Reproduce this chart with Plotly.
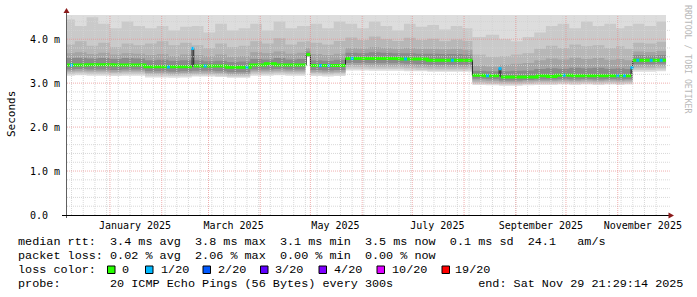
import plotly.graph_objects as go
import pandas as pd

# ---------------- data (values in ms) ----------------
smoke_dates = [
    "2024-12-04", "2024-12-11", "2024-12-18", "2024-12-25", "2025-01-01", "2025-01-08", "2025-01-15",
    "2025-01-22", "2025-01-29", "2025-02-05", "2025-02-12",
    "2025-02-19", "2025-02-26", "2025-03-05", "2025-03-12", "2025-03-19",
    "2025-03-26", "2025-04-02", "2025-04-09", "2025-04-16", "2025-04-23",
    "2025-04-28",
    "2025-05-01", "2025-05-08", "2025-05-15",
    "2025-05-22", "2025-05-29", "2025-06-05", "2025-06-12", "2025-06-19", "2025-06-26",
    "2025-07-03", "2025-07-10", "2025-07-17", "2025-07-24", "2025-07-31",
    "2025-08-06", "2025-08-14",
    "2025-08-22", "2025-08-29", "2025-09-05", "2025-09-12", "2025-09-19", "2025-09-26",
    "2025-10-03", "2025-10-10", "2025-10-17", "2025-10-24", "2025-10-31", "2025-11-05",
    "2025-11-10", "2025-11-17", "2025-11-24",
    "2025-11-29 21:29",
]
# outermost ping pair (upper one is above the graph top everywhere)
smoke_u1 = [4.6, 4.6, 4.6, 4.6, 4.6, 4.6, 4.6, 4.6, 4.6, 4.6, 4.6, 4.6, 4.6, 4.6, 4.6, 4.6, 4.6, 4.6,
            4.6, 4.6, 4.6, 4.6, 4.6, 4.6, 4.6, 4.6, 4.6, 4.6, 4.6, 4.6, 4.6, 4.6, 4.6, 4.6, 4.6, 4.6,
            4.6, 4.6, 4.6, 4.6, 4.6, 4.6, 4.6, 4.6, 4.6, 4.6, 4.6, 4.6, 4.6, 4.6, 4.6, 4.6, 4.6, 4.6]
smoke_l1 = [3.17, 3.18, 3.17, 3.17, 3.16, 3.17, 3.17,
            3.13, 3.13, 3.12, 3.13,
            3.15, 3.15, 3.14, 3.12, 3.12,
            3.17, 3.17, 3.18, 3.17, 3.17,
            3.60,
            3.16, 3.15, 3.16,
            3.29, 3.29, 3.28, 3.28, 3.28, 3.27, 3.27, 3.26, 3.26, 3.26, 3.26,
            2.96, 2.95,
            2.94, 2.94, 2.95, 2.96, 2.96, 2.97, 2.96, 2.97, 2.96, 2.97, 2.96, 2.97,
            3.26, 3.26, 3.27,
            3.27]
smoke_u2 = [4.45, 4.30, 4.50, 4.35, 4.25, 4.40, 4.30,
            4.25, 4.30, 4.20, 4.28,
            4.30, 4.15, 4.35, 4.20, 4.25,
            4.35, 4.20, 4.40, 4.25, 4.30,
            4.30,
            4.35, 4.25, 4.40,
            4.35, 4.25, 4.40, 4.30, 4.20, 4.35, 4.28, 4.32, 4.22, 4.30, 4.25,
            4.05, 4.10,
            4.00, 3.95, 4.05, 4.15, 4.30, 4.35, 4.25, 4.40, 4.30, 4.35, 4.25, 4.30,
            4.35, 4.30, 4.40,
            4.35]
smoke_l2 = [3.21, 3.22, 3.21, 3.21, 3.20, 3.21, 3.21,
            3.17, 3.17, 3.16, 3.17,
            3.18, 3.18, 3.17, 3.15, 3.15,
            3.21, 3.21, 3.22, 3.21, 3.21,
            3.60,
            3.20, 3.19, 3.20,
            3.33, 3.33, 3.32, 3.32, 3.32, 3.31, 3.30, 3.29, 3.29, 3.29, 3.29,
            2.99, 2.98,
            2.97, 2.97, 2.98, 2.99, 2.99, 3.00, 2.99, 3.00, 2.99, 3.00, 2.99, 3.00,
            3.30, 3.30, 3.31,
            3.31]
smoke_u3 = [3.88, 3.95, 3.85, 3.92, 3.82, 3.90, 3.86,
            3.90, 3.95, 3.86, 3.92,
            3.86, 3.80, 3.90, 3.82, 3.85,
            3.95, 3.90, 4.02, 3.88, 3.94,
            3.95,
            3.92, 3.88, 3.96,
            4.04, 3.98, 4.06, 4.00, 3.96, 4.03, 3.98, 4.01, 3.95, 3.99, 3.96,
            3.65, 3.60,
            3.62, 3.65, 3.68, 3.78, 3.85, 3.80, 3.88, 3.84, 3.86, 3.80, 3.84, 3.78,
            3.92, 3.90, 3.94,
            3.92]
smoke_l3 = [3.24, 3.25, 3.24, 3.24, 3.23, 3.24, 3.24,
            3.20, 3.20, 3.19, 3.20,
            3.21, 3.21, 3.20, 3.18, 3.18,
            3.24, 3.24, 3.25, 3.24, 3.24,
            3.61,
            3.23, 3.22, 3.23,
            3.37, 3.37, 3.36, 3.36, 3.36, 3.35, 3.34, 3.33, 3.33, 3.33, 3.33,
            3.02, 3.01,
            3.00, 3.00, 3.01, 3.02, 3.02, 3.03, 3.02, 3.03, 3.02, 3.03, 3.02, 3.03,
            3.34, 3.34, 3.35,
            3.35]
smoke_u4 = [3.68, 3.70, 3.66, 3.69, 3.65, 3.68, 3.67,
            3.64, 3.66, 3.62, 3.65,
            3.64, 3.62, 3.65, 3.60, 3.62,
            3.70, 3.68, 3.72, 3.67, 3.69,
            3.80,
            3.66, 3.64, 3.67,
            3.80, 3.79, 3.82, 3.80, 3.78, 3.80, 3.78, 3.78, 3.77, 3.78, 3.76,
            3.40, 3.38,
            3.42, 3.44, 3.46, 3.52, 3.56, 3.54, 3.58, 3.55, 3.57, 3.53, 3.55, 3.52,
            3.72, 3.71, 3.73,
            3.72]
smoke_l4 = [3.27, 3.28, 3.27, 3.27, 3.26, 3.27, 3.27,
            3.23, 3.23, 3.22, 3.23,
            3.24, 3.24, 3.23, 3.21, 3.21,
            3.27, 3.27, 3.28, 3.27, 3.27,
            3.61,
            3.26, 3.25, 3.26,
            3.41, 3.41, 3.40, 3.40, 3.40, 3.39, 3.38, 3.37, 3.37, 3.37, 3.37,
            3.06, 3.05,
            3.03, 3.03, 3.04, 3.05, 3.05, 3.06, 3.05, 3.06, 3.05, 3.06, 3.05, 3.06,
            3.38, 3.38, 3.39,
            3.39]
smoke_u5 = [3.57, 3.58, 3.56, 3.57, 3.55, 3.57, 3.56,
            3.52, 3.53, 3.51, 3.52,
            3.52, 3.50, 3.51, 3.48, 3.49,
            3.55, 3.54, 3.57, 3.54, 3.55,
            3.72,
            3.52, 3.51, 3.53,
            3.69, 3.68, 3.70, 3.69, 3.68, 3.68, 3.67, 3.67, 3.66, 3.66, 3.65,
            3.28, 3.27,
            3.27, 3.28, 3.29, 3.32, 3.34, 3.33, 3.35, 3.34, 3.35, 3.33, 3.34, 3.32,
            3.64, 3.63, 3.64,
            3.64]
smoke_l5 = [3.31, 3.32, 3.31, 3.31, 3.30, 3.31, 3.31,
            3.27, 3.27, 3.26, 3.27,
            3.28, 3.28, 3.27, 3.25, 3.25,
            3.31, 3.31, 3.32, 3.31, 3.31,
            3.62,
            3.30, 3.29, 3.30,
            3.46, 3.46, 3.45, 3.45, 3.45, 3.44, 3.43, 3.42, 3.42, 3.42, 3.42,
            3.10, 3.09,
            3.06, 3.06, 3.07, 3.08, 3.08, 3.09, 3.08, 3.09, 3.08, 3.09, 3.08, 3.09,
            3.43, 3.43, 3.44,
            3.44]

median_dates = [
    "2024-12-04", "2024-12-18", "2025-01-03", "2025-01-22", "2025-02-19 04:00", "2025-02-20 04:00",
    "2025-03-12", "2025-03-26", "2025-04-04", "2025-04-10", "2025-04-28 12:00", "2025-05-01",
    "2025-05-22", "2025-06-23", "2025-07-10", "2025-08-06", "2025-08-13", "2025-08-22",
    "2025-08-23", "2025-09-14", "2025-09-20", "2025-09-25", "2025-10-05", "2025-11-09",
    "2025-11-10", "2025-11-29 21:29",
]
median_vals = [
    3.41, 3.42, 3.41, 3.37, 3.79, 3.39,
    3.36, 3.41, 3.44, 3.41, 3.65, 3.40,
    3.56, 3.55, 3.52, 3.18, 3.17, 3.33,
    3.14, 3.17, 3.15, 3.18, 3.17, 3.35,
    3.52, 3.52,
]
loss_1of20_dates = [
    "2024-12-09", "2025-02-05", "2025-02-19 12:00", "2025-02-27", "2025-03-24", "2025-05-07",
    "2025-05-12", "2025-05-26", "2025-06-27", "2025-07-25", "2025-08-15", "2025-08-22 12:00",
    "2025-09-30", "2025-11-01", "2025-11-05", "2025-11-09 12:00", "2025-11-13", "2025-11-21",
    "2025-11-27",
]

x_label_dates = ["2025-01-16", "2025-03-16", "2025-05-16", "2025-07-16", "2025-09-16", "2025-11-16"]
x_label_text = ["January 2025", "March 2025", "May 2025", "July 2025", "September 2025", "November 2025"]
y_tick_vals = [0, 1, 2, 3, 4]
y_tick_text = ["0.0\u00a0\u00a0", "1.0 m", "2.0 m", "3.0 m", "4.0 m"]

legend_line1 = "median rtt:  3.4 ms avg  3.8 ms max  3.1 ms min  3.5 ms now  0.1 ms sd  24.1   am/s"
legend_line2 = "packet loss: 0.02 % avg  2.06 % max  0.00 % min  0.00 % now"
legend_line3 = "loss color:"
legend_line4 = "probe:       20 ICMP Echo Pings (56 Bytes) every 300s            end: Sat Nov 29 21:29:14 2025"
loss_labels = ["0", "1/20", "2/20", "3/20", "4/20", "10/20", "19/20"]
loss_colors = ["#26ff00", "#00b8ff", "#0059ff", "#5e00ff", "#7e00ff", "#dd00ff", "#ff0000"]

smoke_colors = ["#dddddd", "#cacaca", "#b7b7b7", "#a4a4a4", "#8a8a8a"]

# ---------------- geometry ----------------
W, H = 697, 297
L, R, T, B = 67, 29, 15, 82
PW, PH = W - L - R, H - T - B
X0 = pd.Timestamp("2024-12-06 07:00")
X1 = pd.Timestamp("2025-12-01 02:00")
YMAX = 4.55


def px(p):
    return (p - L) / PW


def py(p):
    return (T + PH - p) / PH


def dates(lst):
    return pd.to_datetime(lst, format="ISO8601")


MONO = "DejaVu Sans Mono"
LEG = "Liberation Mono"
GRID_MINOR = "rgba(212,212,212,0.9)"
GRID_MAJOR = "rgba(232,140,140,0.7)"

fig = go.Figure()
sd = dates(smoke_dates)
layers = [(smoke_l1, smoke_u1), (smoke_l2, smoke_u2), (smoke_l3, smoke_u3),
          (smoke_l4, smoke_u4), (smoke_l5, smoke_u5)]
for (lo, hi), col in zip(layers, smoke_colors):
    fig.add_trace(go.Scatter(x=sd, y=lo, mode="lines", line=dict(width=0, shape="hv"),
                             hoverinfo="skip", showlegend=False))
    fig.add_trace(go.Scatter(x=sd, y=hi, mode="lines", line=dict(width=0, shape="hv"),
                             fill="tonexty", fillcolor=col, hoverinfo="skip", showlegend=False))

md = dates(median_dates)
fig.add_trace(go.Scatter(x=md, y=median_vals, mode="lines",
                         line=dict(color="#202020", width=1, shape="hv"),
                         hoverinfo="skip", showlegend=False))

gx, gy = [], []
for i in range(len(md)):
    gx.append(md[i]); gy.append(median_vals[i])
    if i + 1 < len(md) and abs(median_vals[i + 1] - median_vals[i]) > 0.08:
        gx.append(md[i + 1]); gy.append(median_vals[i])
        gx.append(None); gy.append(None)
fig.add_trace(go.Scatter(x=gx, y=gy, mode="lines", line=dict(color=loss_colors[0], width=3, shape="hv"),
                         connectgaps=False, hoverinfo="skip", showlegend=False))

med_series = pd.Series(median_vals, index=md)
ld = dates(loss_1of20_dates)
lv = [med_series[med_series.index <= d].iloc[-1] for d in ld]
fig.add_trace(go.Scatter(x=ld, y=lv, mode="markers",
                         marker=dict(symbol="square", size=3, color=loss_colors[1], line=dict(width=0)),
                         hoverinfo="skip", showlegend=False))

shapes = []
# grid drawn over the smoke, like rrdtool does
for w in pd.date_range("2024-12-09", "2025-11-29", freq="7D"):
    shapes.append(dict(type="line", xref="x", yref="paper", x0=w, x1=w, y0=0, y1=1, layer="above",
                       line=dict(color=GRID_MINOR, width=1, dash="1px,1px")))
for i in range(1, 23):
    if i % 5:
        v = round(i * 0.2, 2)
        shapes.append(dict(type="line", xref="paper", yref="y", x0=0, x1=1.003, y0=v, y1=v, layer="above",
                           line=dict(color=GRID_MINOR, width=1, dash="1px,1px")))
for m in pd.date_range("2025-01-01", "2025-11-01", freq="MS"):
    shapes.append(dict(type="line", xref="x", yref="paper", x0=m, x1=m, y0=0, y1=1, layer="above",
                       line=dict(color=GRID_MAJOR, width=1, dash="1px,1px")))
for v in [1, 2, 3, 4]:
    shapes.append(dict(type="line", xref="paper", yref="y", x0=0, x1=1.003, y0=v, y1=v, layer="above",
                       line=dict(color=GRID_MAJOR, width=1, dash="1px,1px")))
# axes
shapes.append(dict(type="line", xref="paper", yref="paper", x0=px(66.5), x1=px(66.5), y0=py(218), y1=py(11),
                   layer="above", line=dict(color="#606060", width=1)))
shapes.append(dict(type="line", xref="paper", yref="paper", x0=px(62), x1=px(669), y0=py(215.5), y1=py(215.5),
                   layer="above", line=dict(color="#000000", width=1)))
shapes.append(dict(type="path", xref="paper", yref="paper", layer="above",
                   path=f"M {px(63.5)},{py(13)} L {px(69.5)},{py(13)} L {px(66.5)},{py(8)} Z",
                   fillcolor="#8b1a1a", line=dict(width=0)))
shapes.append(dict(type="path", xref="paper", yref="paper", layer="above",
                   path=f"M {px(668.5)},{py(212.5)} L {px(668.5)},{py(218.5)} L {px(674)},{py(215.5)} Z",
                   fillcolor="#8b1a1a", line=dict(width=0)))

# legend colour boxes
box_left = [107.5, 145.5, 203, 260.5, 319, 377, 442]
label_left = [120, 159, 216, 273, 332, 389.5, 453]
for bx, col in zip(box_left, loss_colors):
    shapes.append(dict(type="rect", xref="paper", yref="paper", x0=px(bx), x1=px(bx + 7.5),
                       y0=py(273.5), y1=py(266), line=dict(color="black", width=1), fillcolor=col))

ann = []


def text(x, y, s, size=11.8, family=LEG, color="black", angle=0, xanchor="left"):
    ann.append(dict(x=px(x), y=py(y), xref="paper", yref="paper", text=s.replace(" ", "\u00a0"),
                    showarrow=False, xanchor=xanchor, yanchor="middle", textangle=angle,
                    font=dict(family=family, size=size, color=color)))


text(16, 241.5, legend_line1)
text(16, 255.5, legend_line2)
text(16, 269.5, legend_line3)
for lx, lab in zip(label_left, loss_labels):
    text(lx, 269.5, lab)
text(16, 283.5, legend_line4)
text(11, 114, "Seconds", size=11, family=MONO, angle=-90, xanchor="center")
text(688, 59, "RRDTOOL / TOBI OETIKER", size=8.2, family=MONO, color="#b8b8b8", angle=90, xanchor="center")

fig.update_layout(
    width=W, height=H, autosize=False,
    margin=dict(l=L, r=R, t=T, b=B, pad=0),
    paper_bgcolor="white", plot_bgcolor="white",
    showlegend=False, shapes=shapes, annotations=ann,
)
fig.update_xaxes(type="date", range=[X0, X1], tickmode="array", tickvals=x_label_dates, ticktext=x_label_text,
                 showgrid=False, zeroline=False, showline=False, ticks="outside", ticklen=1,
                 tickcolor="rgba(0,0,0,0)", tickfont=dict(family=MONO, size=10, color="black"))
fig.update_yaxes(range=[0, YMAX], tickmode="array", tickvals=y_tick_vals, ticktext=y_tick_text,
                 showgrid=False, zeroline=False, showline=False, ticks="outside", ticklen=4,
                 tickcolor="rgba(0,0,0,0)", tickfont=dict(family=MONO, size=10, color="black"))

fig.write_html("out.html", config={"displayModeBar": False})
